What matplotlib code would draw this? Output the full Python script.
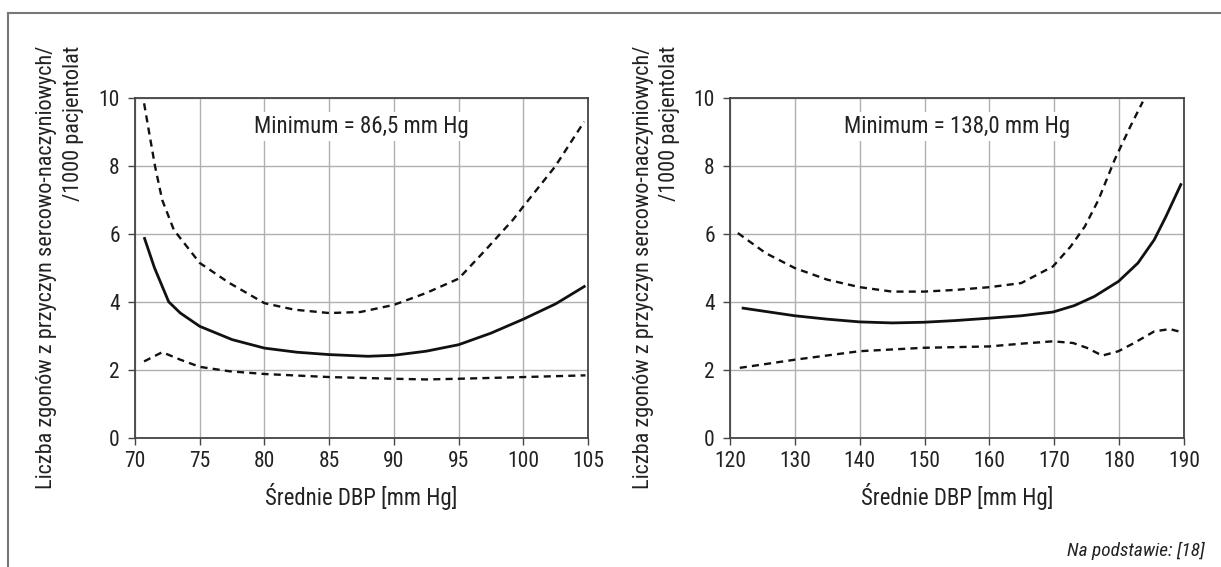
import matplotlib
matplotlib.use("Agg")
import matplotlib.pyplot as plt
from matplotlib import font_manager
from matplotlib.lines import Line2D

# wąska czcionka, jeśli jest dostępna
available = {f.name for f in font_manager.fontManager.ttflist}
family = 'DejaVu Sans'
for cand in ['Roboto Condensed', 'Liberation Sans Narrow', 'Archivo Narrow',
             'PT Sans Narrow', 'Fira Sans Condensed', 'Pragati Narrow']:
    if cand in available:
        family = cand
        break
plt.rcParams['font.family'] = [family, 'DejaVu Sans']
narrow = family != 'DejaVu Sans'
fs_tick = 15.5 if narrow else 13
fs_lab = 16.4 if narrow else 13
fs_ylab = 16 if narrow else 12
fs_min = 16.5 if narrow else 14
fs_note = 13.9 if narrow else 11

# Lewy wykres: DBP 70-105
dbp_x_mid = [70.7, 71.5, 72.6, 73.5, 75.0, 77.5, 80.0, 82.5, 85.0, 88.0, 90.0,
             92.5, 95.0, 97.5, 100.0, 102.5, 104.8]
dbp_mid = [5.9, 5.0, 4.0, 3.67, 3.28, 2.89, 2.64, 2.52, 2.45, 2.40, 2.43,
           2.55, 2.74, 3.08, 3.49, 3.94, 4.47]
dbp_x_up = [70.7, 71.1, 71.55, 72.1, 73.0, 75.0, 77.3, 80.0, 82.3, 85.0, 87.4,
            90.0, 92.5, 95.0, 97.1, 99.2, 100.0, 102.45, 104.7]
dbp_up = [9.83, 8.95, 7.97, 6.99, 6.11, 5.14, 4.55, 3.96, 3.77, 3.67, 3.70,
          3.91, 4.26, 4.68, 5.53, 6.41, 6.80, 7.97, 9.29]
dbp_x_lo = [70.7, 72.1, 73.5, 75.0, 77.3, 80.0, 85.0, 90.0, 92.5, 95.0, 100.0, 104.8]
dbp_lo = [2.25, 2.52, 2.30, 2.09, 1.96, 1.88, 1.79, 1.74, 1.72, 1.74, 1.79, 1.84]

# Prawy wykres: 120-190
sbp_x_mid = [121.8, 130.0, 135.0, 140.0, 145.0, 149.9, 154.8, 160.0, 164.9, 169.8,
             173.1, 176.2, 179.9, 182.9, 185.4, 187.2, 189.6]
sbp_mid = [3.82, 3.59, 3.49, 3.41, 3.38, 3.40, 3.45, 3.52, 3.59, 3.70,
           3.89, 4.16, 4.60, 5.14, 5.82, 6.50, 7.48]
sbp_x_up = [121.2, 125.5, 130.0, 135.0, 140.0, 145.0, 149.9, 154.8, 160.0, 164.9,
            169.8, 172.5, 174.7, 176.8, 179.3, 181.7, 183.65]
sbp_up = [6.02, 5.43, 4.99, 4.65, 4.43, 4.30, 4.30, 4.35, 4.43, 4.55,
          5.04, 5.62, 6.21, 6.99, 8.17, 9.14, 9.88]
sbp_x_lo = [121.5, 130.0, 140.0, 149.9, 160.0, 164.9, 169.8, 172.9, 175.0, 177.4,
            179.9, 182.3, 185.4, 187.8, 189.2]
sbp_lo = [2.06, 2.30, 2.55, 2.65, 2.69, 2.77, 2.84, 2.79, 2.65, 2.42,
          2.55, 2.79, 3.13, 3.20, 3.13]

y_ticks = [0, 2, 4, 6, 8, 10]
dbp_ticks = [70, 75, 80, 85, 90, 95, 100, 105]
sbp_ticks = [120, 130, 140, 150, 160, 170, 180, 190]

ylabel_1 = "Liczba zgonów z przyczyn sercowo-naczyniowych/"
ylabel_2 = "/1000 pacjentolat"
xlabel = "Średnie DBP [mm Hg]"

W, H = 1221, 567
fig = plt.figure(figsize=(W / 100, H / 100), dpi=100)
ax1 = fig.add_axes([0.1106, 0.2275, 0.371, 0.6005])
ax2 = fig.add_axes([0.5979, 0.2275, 0.3718, 0.6005])

panels = [
    (ax1, dbp_x_mid, dbp_mid, dbp_x_up, dbp_up, dbp_x_lo, dbp_lo, dbp_ticks,
     (70, 105), "Minimum = 86,5 mm Hg", 87.5, 47),
    (ax2, sbp_x_mid, sbp_mid, sbp_x_up, sbp_up, sbp_x_lo, sbp_lo, sbp_ticks,
     (120, 190), "Minimum = 138,0 mm Hg", 155.0, 643),
]

for ax, xm, ym, xu, yu, xl, yl, xt, xlim, txt, tx, lab_x in panels:
    ax.plot(xm, ym, color='#111111', lw=2.0, solid_capstyle='butt')
    ax.plot(xu, yu, color='#111111', lw=1.7, dashes=(3.0, 2.2))
    ax.plot(xl, yl, color='#111111', lw=1.7, dashes=(3.0, 2.2))
    ax.set_xlim(*xlim)
    ax.set_ylim(0, 10)
    ax.set_xticks(xt)
    ax.set_yticks(y_ticks)
    ax.grid(True, color='#b0b0b0', lw=1.0)
    ax.set_axisbelow(True)
    for s in ax.spines.values():
        s.set_color('#444444')
        s.set_linewidth(1.3)
    ax.tick_params(direction='out', length=5, width=1.0, color='#444444',
                   labelsize=fs_tick, labelcolor='#222222')
    ax.tick_params(axis='x', pad=4)
    ax.tick_params(axis='y', pad=6)
    ax.set_xlabel(xlabel, fontsize=fs_lab, labelpad=8, color='#222222')
    ax.text(tx, 9.15, txt, fontsize=fs_min, ha='center', va='center', color='#222222',
            bbox=dict(facecolor='white', edgecolor='none', pad=2))
    # opis osi Y w dwóch wierszach, oba kończą się na tej samej wysokości
    fig.text(lab_x / W, 1 - 46 / H, ylabel_1, fontsize=fs_ylab, rotation=90,
             rotation_mode='anchor', ha='right', va='center', color='#222222')
    fig.text((lab_x + 27) / W, 1 - 46 / H, ylabel_2, fontsize=fs_ylab, rotation=90,
             rotation_mode='anchor', ha='right', va='center', color='#222222')

fig.text(1205 / W, 1 - 551 / H, "Na podstawie: [18]", fontsize=fs_note,
         style='italic', ha='right', va='center', color='#222222')

# ramka
fig.add_artist(Line2D([8 / W, 8 / W], [0, 1 - 13 / H],
                      color='#777777', lw=1.5, transform=fig.transFigure))
fig.add_artist(Line2D([8 / W, 1], [1 - 13 / H, 1 - 13 / H],
                      color='#777777', lw=1.5, transform=fig.transFigure))

fig.savefig("out.png", dpi=100)
